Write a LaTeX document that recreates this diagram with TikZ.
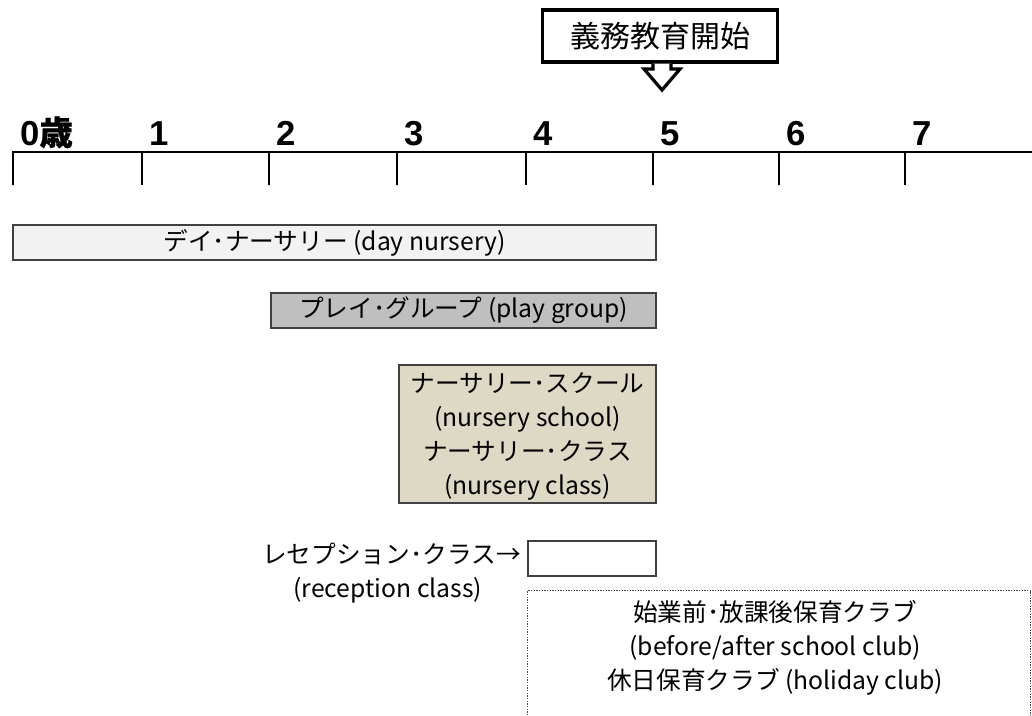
\documentclass[tikz,border=0pt]{standalone}
\usepackage{fontspec}
\setmainfont{Noto Sans CJK JP}
\newfontfamily\axisfont{Liberation Sans}
\newfontfamily\jpbold[FakeBold=1.0]{Noto Sans CJK JP}
\begin{document}
\begin{tikzpicture}[x=0.75pt,y=-0.75pt,
  bar/.style={draw=black!75, line width=1.4pt, inner sep=0pt, anchor=north west},
  jtext/.style={font=\fontsize{18.5}{25.5}\selectfont, inner sep=0pt, align=center},
  axlab/.style={font=\axisfont\bfseries\fontsize{26}{28}\selectfont, anchor=base west, inner sep=0pt},
  tick/.style={line width=1.6pt}]
\useasboundingbox (0,0) rectangle (1032,715);
% callout
\node[draw, line width=2.4pt, minimum width=235*0.75pt, minimum height=52*0.75pt, inner sep=0pt,
  font=\fontsize{22.5}{24}\selectfont] (start) at (660,36) {義務教育開始};
\coordinate (tip) at (662,90);
\draw[line width=2.4pt, fill=white, line join=miter]
  (start.south -| 653,0) -- (653,69) -- (644,69) -- (tip) -- (680,69) -- (671,69) -- (start.south -| 671,0);
% axis
\coordinate (axL) at (12,152);
\coordinate (axR) at (1032,152);
\draw[line width=2.2pt] (axL) -- (axR);
\foreach \i/\x/\t in {0/13/{0{\jpbold\fontsize{25}{28}\selectfont 歳}},1/142/1,2/269/2,3/397/3,4/526/4,5/653/5,6/779/6,7/905/7}{
  \coordinate (t\i) at (\x,152);
  \draw[tick] (t\i) -- ++(0,33);
  \node[axlab] (lab\i) at (\x+7,145) {\t};
}
% bars
\node[bar, fill=black!5, minimum width=643*0.75pt, minimum height=35*0.75pt] (day) at (12,224) {};
\node[jtext] (daytxt) at (day.center) {デイ･ナーサリー (day nursery)};
\node[bar, fill=black!25, minimum width=385*0.75pt, minimum height=35*0.75pt] (play) at (270,292) {};
\node[jtext] (playtxt) at (play.center) {プレイ･グループ (play group)};
\node[bar, fill={rgb,255:red,221;green,217;blue,196}, minimum width=257*0.75pt, minimum height=138*0.75pt] (nurs) at (398,364) {};
\node[jtext] (nurstxt) at ([yshift=-1.5pt]nurs.center) {ナーサリー･スクール\\(nursery school)\\ナーサリー･クラス\\(nursery class)};
\node[bar, fill=white, minimum width=128*0.75pt, minimum height=35*0.75pt] (rec) at (527,540) {};
\node[jtext, anchor=north east] (rectxt) at (521,543) {レセプション･クラス→\\(reception class)\hspace*{0.3em}};
% dotted club box
\begin{scope}
\clip (0,0) rectangle (1032,715);
\node[draw=black!70, densely dotted, line width=1pt, anchor=north west, inner sep=0pt,
  minimum width=503*0.75pt, minimum height=140*0.75pt] (club) at (527,590) {};
\end{scope}
\node[jtext, anchor=north] (clubtxt) at (775,600) {始業前･放課後保育クラブ\\(before/after school club)\\休日保育クラブ (holiday club)};
\end{tikzpicture}
\end{document}
